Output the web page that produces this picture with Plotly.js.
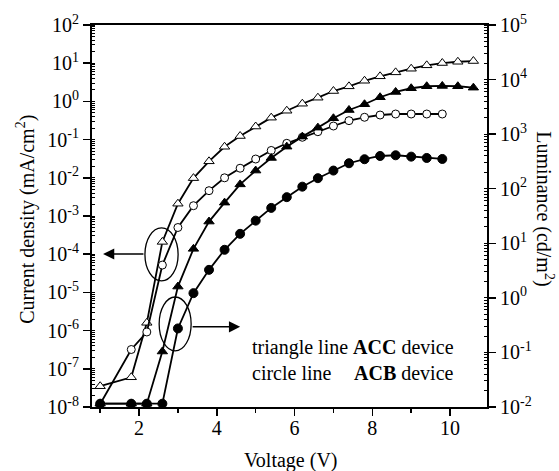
<!DOCTYPE html>
<html>
<head>
<meta charset="utf-8">
<script src="https://cdn.plot.ly/plotly-3.0.1.min.js"></script>
<style>html,body{margin:0;padding:0;background:#fff;}#chart{width:559px;height:471px;}</style>
</head>
<body>
<div id="chart"></div>
<script>
// Voltage (V)
const voltACC = [1.0,1.8,2.2,2.6,3.0,3.4,3.8,4.2,4.6,5.0,5.4,5.8,6.2,6.6,7.0,7.4,7.8,8.2,8.6,9.0,9.4,9.8,10.2,10.6];
const voltACB = [1.0,1.8,2.2,2.6,3.0,3.4,3.8,4.2,4.6,5.0,5.4,5.8,6.2,6.6,7.0,7.4,7.8,8.2,8.6,9.0,9.4,9.8];
// Current density (mA/cm2)
const currentACC = [3.5e-8,6.0e-8,1.6e-6,2.1e-4,2.1e-3,0.0098,0.027,0.065,0.124,0.22,0.375,0.57,0.87,1.25,1.87,2.48,3.47,4.54,5.76,7.17,8.8,10.1,10.9,11.4];
const currentACB = [1.2e-8,3.2e-7,9.2e-7,5.2e-5,5.0e-4,1.86e-3,4.6e-3,0.010,0.0178,0.031,0.052,0.080,0.115,0.161,0.227,0.313,0.384,0.44,0.468,0.468,0.468,0.468];
// Luminance (cd/m2)
const lumACC = [0.0115,0.0115,0.0115,0.104,1.61,7.9,25,55.6,120,215,366,590,900,1315,1955,2770,3530,4740,5930,6930,7540,7640,7540,7110];
const lumACB = [0.0115,0.0115,0.0115,0.0115,0.275,1.22,3.26,7.6,14.9,26,44.5,70,109,156,215,293,347,398,410,387,366,351];
// Tick labels
const xTicks = [2,4,6,8,10];
const leftTickVals = [1e-8,1e-7,1e-6,1e-5,1e-4,1e-3,1e-2,1e-1,1e0,1e1,1e2];
const leftTickText = ['10<sup>-8</sup>','10<sup>-7</sup>','10<sup>-6</sup>','10<sup>-5</sup>','10<sup>-4</sup>','10<sup>-3</sup>','10<sup>-2</sup>','10<sup>-1</sup>','10<sup>0</sup>','10<sup>1</sup>','10<sup>2</sup>'];
const rightTickVals = [1e-2,1e-1,1e0,1e1,1e2,1e3,1e4,1e5];
const rightTickText = ['10<sup>-2</sup>','10<sup>-1</sup>','10<sup>0</sup>','10<sup>1</sup>','10<sup>2</sup>','10<sup>3</sup>','10<sup>4</sup>','10<sup>5</sup>'];

const FONT = 'Liberation Serif, Times New Roman, serif';
const lineStyle = {color:'#000', width:1.8};

const traces = [
  {x:voltACC, y:currentACC, yaxis:'y', mode:'lines+markers', cliponaxis:false,
   line:lineStyle, marker:{symbol:'triangle-up', size:9, color:'#fff', line:{color:'#000', width:1}}},
  {x:voltACB, y:currentACB, yaxis:'y', mode:'lines+markers', cliponaxis:false,
   line:lineStyle, marker:{symbol:'circle', size:8, color:'#fff', line:{color:'#000', width:1}}},
  {x:voltACC, y:lumACC, yaxis:'y2', mode:'lines+markers', cliponaxis:false,
   line:lineStyle, marker:{symbol:'triangle-up', size:9, color:'#000', line:{color:'#000', width:1}}},
  {x:voltACB, y:lumACB, yaxis:'y2', mode:'lines+markers', cliponaxis:false,
   line:lineStyle, marker:{symbol:'circle', size:9, color:'#000', line:{color:'#000', width:1}}}
];

const axisCommon = {showgrid:false, zeroline:false, showline:true, linecolor:'#000', linewidth:2,
  ticks:'outside', ticklen:7, tickwidth:1.5, tickcolor:'#000', tickfont:{family:FONT, size:20, color:'#000'}};

const layout = {
  width:559, height:471,
  margin:{l:92, r:72, t:25, b:64},
  paper_bgcolor:'#fff', plot_bgcolor:'#fff',
  showlegend:false,
  font:{family:FONT, size:20, color:'#000'},
  xaxis:Object.assign({}, axisCommon, {range:[0.79,10.95], tickvals:xTicks, mirror:true, ticklabelstandoff:-5,
    minor:{ticks:'outside', ticklen:4, tickwidth:1.5, tickcolor:'#000', dtick:1, tick0:1}}),
  yaxis:Object.assign({}, axisCommon, {type:'log', range:[-8,2], tickvals:leftTickVals, ticktext:leftTickText,
    minor:{ticks:'inside', ticklen:3, tickwidth:1, tickcolor:'#000', dtick:'D1'}}),
  yaxis2:Object.assign({}, axisCommon, {type:'log', range:[-2,5], overlaying:'y', side:'right', anchor:'x',
    tickvals:rightTickVals, ticktext:rightTickText,
    minor:{ticks:'inside', ticklen:3, tickwidth:1, tickcolor:'#000', dtick:'D1'}}),
  shapes:[
    {type:'circle', xref:'paper', yref:'paper', x0:0.134, x1:0.218, y0:0.330, y1:0.469, line:{color:'#000', width:1.3}},
    {type:'circle', xref:'paper', yref:'paper', x0:0.170, x1:0.251, y0:0.147, y1:0.288, line:{color:'#000', width:1.3}}
  ],
  annotations:[
    {xref:'paper', yref:'paper', x:0.028, y:0.4005, axref:'paper', ayref:'paper', ax:0.134, ay:0.4005,
     text:'', showarrow:true, arrowhead:2, arrowsize:1.6, arrowwidth:1.4, arrowcolor:'#000'},
    {xref:'paper', yref:'paper', x:0.375, y:0.210, axref:'paper', ayref:'paper', ax:0.251, ay:0.210,
     text:'', showarrow:true, arrowhead:2, arrowsize:1.6, arrowwidth:1.4, arrowcolor:'#000'},
    {xref:'paper', yref:'paper', x:0.40, y:0.1545, xanchor:'left', yanchor:'middle', showarrow:false,
     text:'triangle line <b>ACC</b> device', font:{family:FONT, size:20, color:'#000'}},
    {xref:'paper', yref:'paper', x:0.40, y:0.089, xanchor:'left', yanchor:'middle', showarrow:false,
     text:'circle line', font:{family:FONT, size:20, color:'#000'}},
    {xref:'paper', yref:'paper', x:0.658, y:0.089, xanchor:'left', yanchor:'middle', showarrow:false,
     text:'<b>ACB</b> device', font:{family:FONT, size:20, color:'#000'}},
    {xref:'paper', yref:'paper', x:-0.167, y:0.49, xanchor:'center', yanchor:'middle', showarrow:false, textangle:-90,
     text:'Current density (mA/cm<sup>2</sup>)', font:{family:FONT, size:20, color:'#000'}},
    {xref:'paper', yref:'paper', x:1.147, y:0.52, xanchor:'center', yanchor:'middle', showarrow:false, textangle:90,
     text:'Luminance (cd/m<sup>2</sup>)', font:{family:FONT, size:20, color:'#000'}},
    {xref:'paper', yref:'paper', x:0.505, y:-0.139, xanchor:'center', yanchor:'middle', showarrow:false,
     text:'Voltage (V)', font:{family:FONT, size:20, color:'#000'}}
  ]
};

Plotly.newPlot('chart', traces, layout, {displayModeBar:false, staticPlot:true});
</script>
</body>
</html>
